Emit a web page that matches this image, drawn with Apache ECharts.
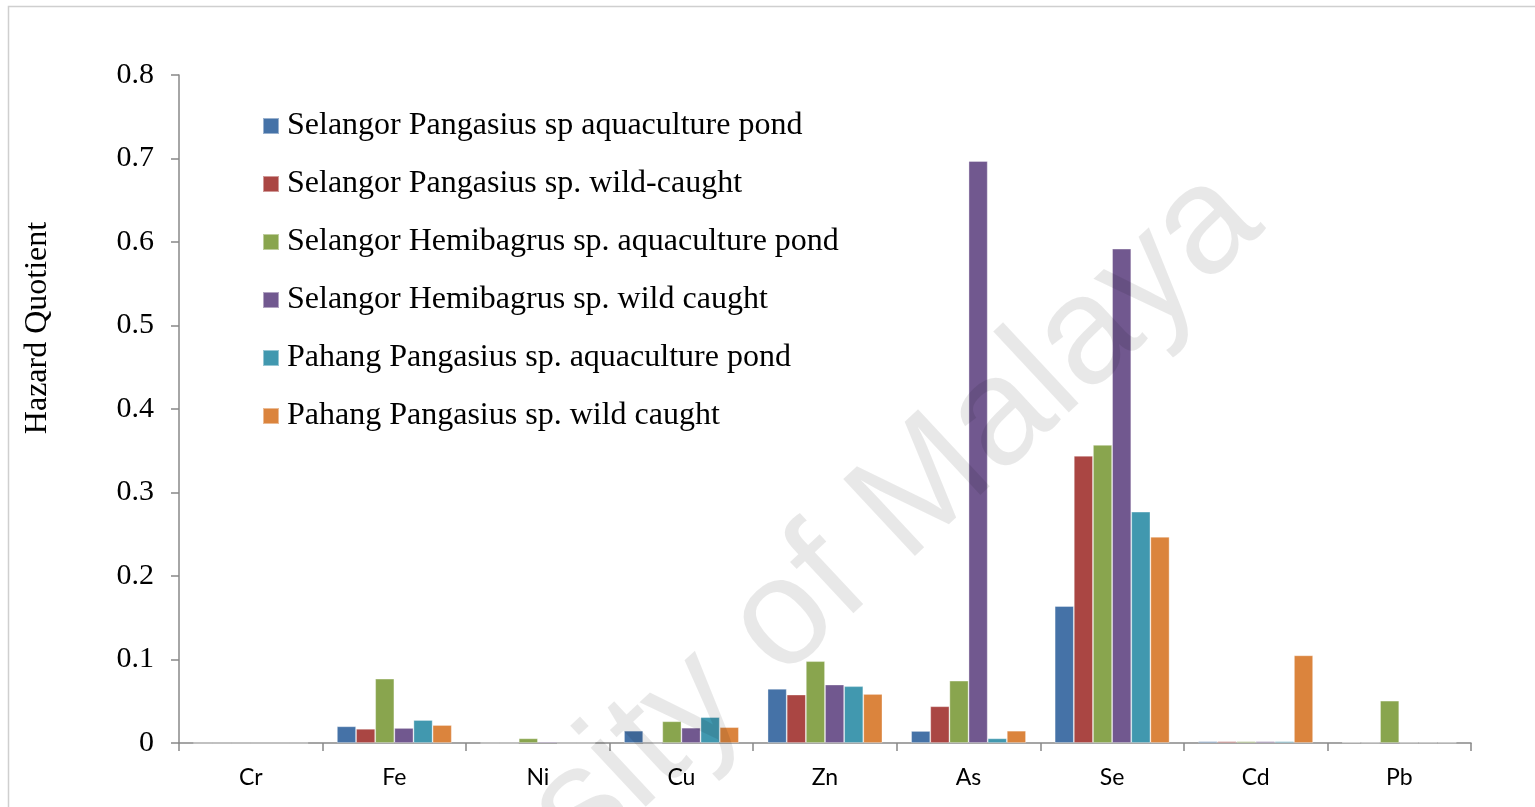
<!DOCTYPE html>
<html>
<head>
<meta charset="utf-8">
<script src="https://cdn.jsdelivr.net/npm/echarts@6/dist/echarts.min.js"></script>
<style>
  html, body { margin: 0; padding: 0; background: #fff; }
  #chart { width: 1535px; height: 807px; }
</style>
</head>
<body>
<div id="chart"></div>
<script>
// metals on the x axis
var metals = ['Cr', 'Fe', 'Ni', 'Cu', 'Zn', 'As', 'Se', 'Cd', 'Pb'];
var seriesNames = [
  'Selangor Pangasius sp aquaculture pond',
  'Selangor Pangasius sp. wild-caught',
  'Selangor Hemibagrus sp. aquaculture pond',
  'Selangor Hemibagrus sp. wild caught',
  'Pahang Pangasius sp. aquaculture pond',
  'Pahang Pangasius sp. wild caught'
];
// hazard quotient
var selPangPond  = [0, 0.020, 0,      0.0147, 0.065,  0.0144, 0.164, 0.002, 0.0008];
var selPangWild  = [0, 0.017, 0,      0,      0.058,  0.044,  0.344, 0.002, 0.0005];
var selHemiPond  = [0, 0.077, 0.0056, 0.026,  0.098,  0.0746, 0.357, 0.002, 0.0507];
var selHemiWild  = [0, 0.018, 0.0016, 0.0183, 0.070,  0.697,  0.592, 0.002, 0.0005];
var pahPangPond  = [0, 0.0275, 0,     0.031,  0.068,  0.0056, 0.277, 0.002, 0.0005];
var pahPangWild  = [0, 0.0215, 0,     0.019,  0.0587, 0.0147, 0.247, 0.105, 0.0005];
var yTicks = [0, 0.1, 0.2, 0.3, 0.4, 0.5, 0.6, 0.7, 0.8];

var colors = ['#4572A7', '#AA4643', '#89A54E', '#71588F', '#4198AF', '#DB843D'];
var allData = [selPangPond, selPangWild, selHemiPond, selHemiWild, pahPangPond, pahPangWild];

var series = [];
for (var i = 0; i < allData.length; i++) {
  series.push({
    name: seriesNames[i],
    type: 'bar',
    data: allData[i],
    barGap: '0%',
    barCategoryGap: '20%',
    itemStyle: {
      color: colors[i],
      borderColor: 'rgba(255,255,255,0.45)',
      borderWidth: 0.8
    }
  });
}

var chart = echarts.init(document.getElementById('chart'));
var option = {
  animation: false,
  backgroundColor: '#fff',
  color: colors,
  grid: { left: 179, right: 64, top: 75, bottom: 64, containLabel: false },
  legend: {
    orient: 'vertical',
    left: 262,
    top: 110,
    padding: 0,
    itemWidth: 16,
    itemHeight: 16,
    itemGap: 26,
    icon: 'rect',
    data: seriesNames,
    textStyle: {
      fontFamily: 'Liberation Serif',
      fontSize: 32,
      lineHeight: 32,
      color: '#000',
      padding: [0, 0, 0, 3]
    }
  },
  xAxis: {
    type: 'category',
    data: metals,
    axisLine: { lineStyle: { color: '#888', width: 1.5 } },
    axisTick: { show: true, length: 8, lineStyle: { color: '#888', width: 1.5 } },
    axisLabel: { fontFamily: 'Lato', fontSize: 23, color: '#000', margin: 23 }
  },
  yAxis: {
    type: 'value',
    min: yTicks[0],
    max: yTicks[yTicks.length - 1],
    interval: 0.1,
    splitLine: { show: false },
    axisLine: { show: true, lineStyle: { color: '#888', width: 1.5 } },
    axisTick: { show: true, length: 8, lineStyle: { color: '#888', width: 1.5 } },
    axisLabel: {
      fontFamily: 'Liberation Serif', fontSize: 30, color: '#000', margin: 25,
      formatter: function (v) { return String(Math.round(v * 10) / 10); }
    }
  },
  graphic: [
    {
      type: 'rect',
      silent: true,
      shape: { x: 8.5, y: 6.5, width: 1560, height: 840 },
      style: { fill: 'none', stroke: '#cfcfcf', lineWidth: 1.5 },
      z: -1
    },
    {
      type: 'text',
      x: 38, y: 328,
      rotation: Math.PI / 2,
      silent: true,
      style: {
        text: 'Hazard Quotient',
        fontFamily: 'Liberation Serif',
        fontSize: 32,
        fill: '#000',
        align: 'center', verticalAlign: 'middle',
        textAlign: 'center', textVerticalAlign: 'middle'
      }
    },
    {
      type: 'text',
      x: 734, y: 667,
      rotation: 43 * Math.PI / 180,
      silent: true,
      z: 100,
      style: {
        text: 'University of Malaya',
        fontFamily: 'Liberation Sans',
        fontSize: 153,
        fill: 'rgba(0,0,0,0.09)',
        align: 'center', verticalAlign: 'middle',
        textAlign: 'center', textVerticalAlign: 'middle'
      }
    }
  ],
  series: series
};
chart.setOption(option);
</script>
</body>
</html>
